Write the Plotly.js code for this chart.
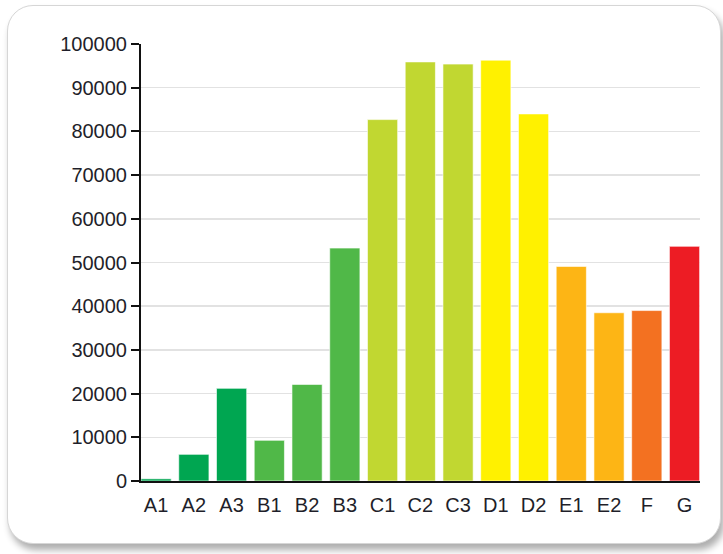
<!DOCTYPE html>
<html>
<head>
<meta charset="utf-8">
<script src="https://cdn.plot.ly/plotly-3.0.1.min.js"></script>
<style>
  html, body { margin: 0; padding: 0; background: #ffffff; width: 723px; height: 554px; overflow: hidden; }
  #frame {
    position: absolute; left: 7px; top: 5px; width: 712px; height: 537px;
    border: 1px solid #d6d6d6; border-radius: 26px;
    box-shadow: 3px 6px 7px rgba(0,0,0,0.32);
    background: #ffffff;
  }
  #chart { position: absolute; left: 0; top: 0; width: 723px; height: 554px; }
</style>
</head>
<body>
<div id="frame"></div>
<div id="chart"></div>
<script>
const categories = ["A1","A2","A3","B1","B2","B3","C1","C2","C3","D1","D2","E1","E2","F","G"];
const values = [500, 6100, 21200, 9300, 22100, 53300, 82700, 95900, 95400, 96300, 84000, 49100, 38500, 39000, 53700];
const barColors = ["#00a651","#00a651","#00a651","#50b848","#50b848","#50b848",
                   "#c1d731","#c1d731","#c1d731","#fff100","#fff100",
                   "#fdb515","#fdb515","#f37121","#ed1c24"];
const yTicks = [0,10000,20000,30000,40000,50000,60000,70000,80000,90000,100000];

const trace = {
  type: "bar",
  x: categories.map((c, i) => i),
  y: values,
  marker: { color: barColors, line: { color: "rgba(255,255,255,0.6)", width: 1 } },
  hoverinfo: "x+y"
};

const layout = {
  width: 723, height: 554,
  margin: { l: 141, r: 23, t: 44, b: 73, pad: 0 },
  paper_bgcolor: "rgba(0,0,0,0)",
  plot_bgcolor: "rgba(0,0,0,0)",
  bargap: 0.2,
  showlegend: false,
  font: { family: "Liberation Sans, Arial, sans-serif", size: 20, color: "#1f1f2a" },
  xaxis: {
    range: [-0.4, 14.41],
    tickmode: "array",
    tickvals: categories.map((c, i) => i),
    ticktext: categories,
    showgrid: false,
    zeroline: false,
    showline: true, linecolor: "#111111", linewidth: 2,
    ticks: "", ticklabelstandoff: 5,
    tickfont: { size: 20, color: "#1f1f2a" },
    fixedrange: true
  },
  yaxis: {
    range: [0, 100000],
    tickmode: "array",
    tickvals: yTicks,
    ticktext: yTicks.map(String),
    showgrid: true, gridcolor: "#e2e2e2", gridwidth: 1.5,
    zeroline: false,
    showline: true, linecolor: "#111111", linewidth: 2,
    ticks: "outside", ticklen: 8, tickwidth: 2, tickcolor: "#111111",
    tickfont: { size: 20, color: "#1f1f2a" },
    fixedrange: true
  }
};

Plotly.newPlot("chart", [trace], layout, { displayModeBar: false, staticPlot: true });
</script>
</body>
</html>
